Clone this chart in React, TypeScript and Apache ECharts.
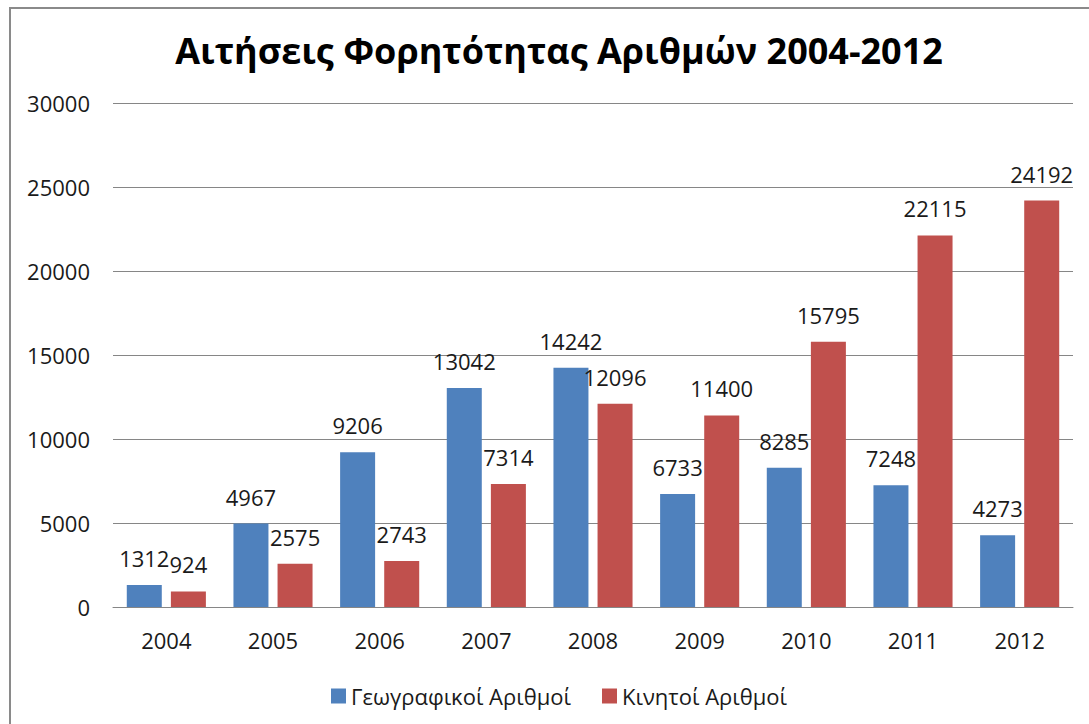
import React, { useEffect, useRef } from "react";
import * as echarts from "echarts";

const categories = ["2004", "2005", "2006", "2007", "2008", "2009", "2010", "2011", "2012"];
const geoValues = [1312, 4967, 9206, 13042, 14242, 6733, 8285, 7248, 4273];
const mobileValues = [924, 2575, 2743, 7314, 12096, 11400, 15795, 22115, 24192];
const seriesNames = ["Γεωγραφικοί Αριθμοί", "Κινητοί Αριθμοί"];
const titleText = "Αιτήσεις Φορητότητας Αριθμών 2004-2012";

const FONT = "'Open Sans', 'Noto Sans', sans-serif";

export default function App() {
  const ref = useRef<HTMLDivElement>(null);
  useEffect(() => {
    if (!ref.current) return;
    const chart = echarts.init(ref.current, null, { renderer: "svg" });
    const label = {
      show: true,
      position: "top",
      distance: 16,
      fontSize: 22,
      fontFamily: FONT,
      color: "#1a1a1a",
    };
    chart.setOption({
      animation: false,
      backgroundColor: "#ffffff",
      title: {
        text: titleText,
        left: 554,
        textAlign: "center",
        top: 27,
        textStyle: { fontSize: 36, fontWeight: "bold", fontFamily: FONT, color: "#000" },
      },
      graphic: [
        {
          type: "rect",
          shape: { x: 10, y: 8, width: 1200, height: 1000 },
          style: { fill: "none", stroke: "#8a8a8a", lineWidth: 2 },
          silent: true,
        },
      ],
      legend: {
        bottom: 12,
        left: 326,
        itemWidth: 15,
        itemHeight: 15,
        itemGap: 31,
        icon: "rect",
        textStyle: { fontSize: 22, fontFamily: FONT, color: "#1a1a1a" },
        data: seriesNames,
      },
      grid: { left: 113, right: 16, top: 103, bottom: 117, containLabel: false },
      xAxis: {
        type: "category",
        data: categories,
        axisLine: { lineStyle: { color: "#868686", width: 1 } },
        axisTick: { show: false },
        axisLabel: { fontSize: 22, fontFamily: FONT, color: "#1a1a1a", margin: 22 },
      },
      yAxis: {
        type: "value",
        min: 0,
        max: 30000,
        interval: 5000,
        axisLine: { show: false },
        axisTick: { show: false },
        splitLine: { lineStyle: { color: "#868686", width: 1 } },
        axisLabel: {
          fontSize: 22,
          fontFamily: FONT,
          color: "#1a1a1a",
          margin: 23,
          formatter: (v: number) => String(v),
        },
      },
      series: [
        {
          name: seriesNames[0],
          type: "bar",
          data: geoValues,
          barWidth: 35,
          barGap: "26%",
          itemStyle: { color: "#4f81bd" },
          label,
        },
        {
          name: seriesNames[1],
          type: "bar",
          data: mobileValues,
          barWidth: 35,
          itemStyle: { color: "#c0504d" },
          label,
        },
      ],
    });
    return () => chart.dispose();
  }, []);
  return (
    <div
      ref={ref}
      style={{ position: "absolute", left: 0, top: 0, width: 1089, height: 724 }}
    />
  );
}
